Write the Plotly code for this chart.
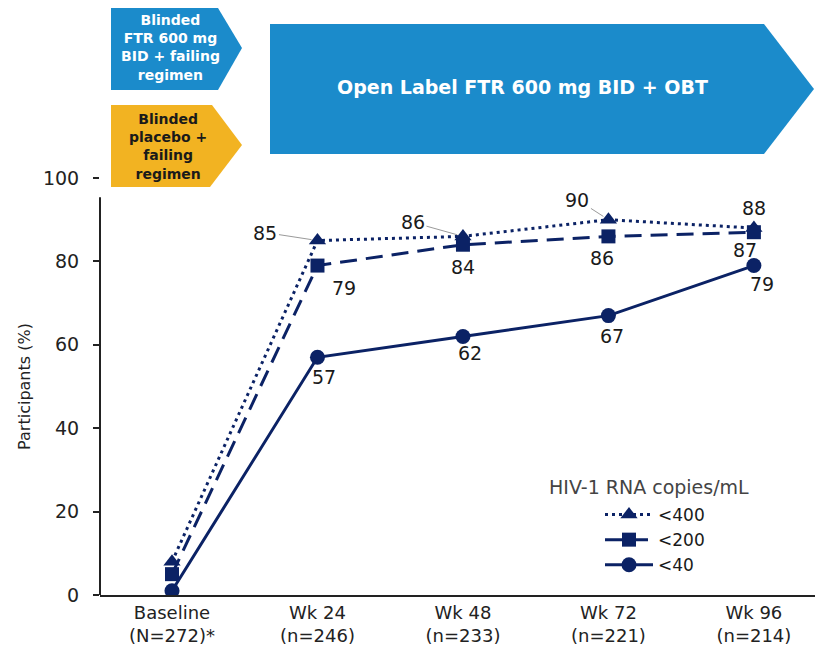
import plotly.graph_objects as go

categories = ["Baseline<br>(N=272)*", "Wk 24<br>(n=246)", "Wk 48<br>(n=233)", "Wk 72<br>(n=221)", "Wk 96<br>(n=214)"]
lt400 = [8, 85, 86, 90, 88]
lt200 = [5, 79, 84, 86, 87]
lt40 = [1, 57, 62, 67, 79]
series_names = ["<400", "<200", "<40"]
y_ticks = [0, 20, 40, 60, 80, 100]

NAVY = "#0b2265"
FONT = "DejaVu Sans"

# plot area in pixels: x 100..815, y 178 (100%) .. 595 (0%)
L, R, T, B = 100, 815, 178, 595
W, H = 815, 659


def px(x):
    return (x - L) / (R - L)


def py(y):
    return (B - y) / (B - T)


xs = list(range(len(categories)))

fig = go.Figure()
fig.add_trace(go.Scatter(
    x=xs, y=lt400, name=series_names[0], mode="lines+markers",
    line=dict(color=NAVY, width=3, dash="3px,4px"),
    marker=dict(symbol="triangle-up", size=15, color=NAVY),
))
fig.add_trace(go.Scatter(
    x=xs, y=lt200, name=series_names[1], mode="lines+markers",
    line=dict(color=NAVY, width=3, dash="17px,9px"),
    marker=dict(symbol="square", size=14, color=NAVY),
))
fig.add_trace(go.Scatter(
    x=xs, y=lt40, name=series_names[2], mode="lines+markers",
    line=dict(color=NAVY, width=3),
    marker=dict(symbol="circle", size=15, color=NAVY),
))

lab_font = dict(family=FONT, size=19, color="#1a1a1a")
annotations = []

# <400 labels (with leader lines for 85, 86, 90)
leader = {1: (-52, -8), 2: (-50, -14), 3: (-31, -20)}
for i in range(1, 5):
    if i in leader:
        ax, ay = leader[i]
        annotations.append(dict(x=xs[i], y=lt400[i], text=str(lt400[i]), showarrow=True,
                                arrowhead=0, arrowwidth=1, arrowcolor="#9a9a9a",
                                ax=ax, ay=ay, standoff=6, font=lab_font))
    else:
        annotations.append(dict(x=xs[i], y=lt400[i], text=str(lt400[i]), showarrow=False,
                                yshift=20, font=lab_font))

shift200 = {1: (27, -22), 2: (0, -22), 3: (-6, -22), 4: (-9, -18)}
for i, (dx, dy) in shift200.items():
    annotations.append(dict(x=xs[i], y=lt200[i], text=str(lt200[i]), showarrow=False,
                            xshift=dx, yshift=dy, font=lab_font))

shift40 = {1: (7, -20), 2: (7, -17), 3: (4, -20), 4: (8, -18)}
for i, (dx, dy) in shift40.items():
    annotations.append(dict(x=xs[i], y=lt40[i], text=str(lt40[i]), showarrow=False,
                            xshift=dx, yshift=dy, font=lab_font))

# legend title
annotations.append(dict(xref="paper", yref="paper", x=px(649), y=py(487),
                        xanchor="center", yanchor="middle",
                        text="HIV-1 RNA copies/mL", showarrow=False,
                        font=dict(family=FONT, size=19, color="#444444")))

# header boxes
shapes = []
BLUE = "#1b8bcb"
YELLOW = "#f2b322"


def poly(points, color):
    d = "M " + " L ".join(f"{px(x):.5f},{py(y):.5f}" for x, y in points) + " Z"
    return dict(type="path", xref="paper", yref="paper", path=d,
                fillcolor=color, line=dict(width=0), layer="above")


shapes.append(poly([(111, 8), (218, 8), (242, 48), (218, 90), (111, 90)], BLUE))
shapes.append(poly([(111, 105), (212, 105), (242, 145), (210, 187), (111, 187)], YELLOW))
shapes.append(poly([(270, 24), (764, 24), (814, 89), (764, 154), (270, 154)], BLUE))

BOXF = "DejaVu Sans"
annotations.append(dict(xref="paper", yref="paper", x=px(170), y=py(48),
                        xanchor="center", yanchor="middle",
                        text="<b>Blinded<br>FTR 600 mg<br>BID + failing<br>regimen</b>",
                        showarrow=False, align="center",
                        font=dict(family=BOXF, size=14, color="white")))
annotations.append(dict(xref="paper", yref="paper", x=px(168), y=py(146),
                        xanchor="center", yanchor="middle",
                        text="<b>Blinded<br>placebo +<br>failing<br>regimen</b>",
                        showarrow=False, align="center",
                        font=dict(family=BOXF, size=14, color="#1a1a1a")))
annotations.append(dict(xref="paper", yref="paper", x=px(522), y=py(87),
                        xanchor="center", yanchor="middle",
                        text="<b>Open Label FTR 600 mg BID + OBT</b>",
                        showarrow=False, font=dict(family=BOXF, size=19, color="white")))

# y-axis line (stops short of 100)
shapes.append(dict(type="line", xref="paper", yref="y", x0=0, x1=0, y0=0, y1=95.4,
                   line=dict(color="#222222", width=2)))

fig.update_layout(
    width=W, height=H,
    margin=dict(l=L, r=W - R, t=T, b=H - B, autoexpand=False),
    paper_bgcolor="white", plot_bgcolor="white",
    showlegend=True,
    legend=dict(x=px(600), y=py(497), xanchor="left", yanchor="top",
                font=dict(family=FONT, size=17, color="#1a1a1a"),
                bgcolor="rgba(0,0,0,0)", tracegroupgap=0, itemwidth=48),
    annotations=annotations,
    shapes=shapes,
)
fig.update_xaxes(
    range=[-0.495, 4.42], tickmode="array", tickvals=xs, ticktext=categories,
    showline=True, linecolor="#222222", linewidth=2, showgrid=False, zeroline=False,
    ticks="", tickfont=dict(family=FONT, size=18, color="#222222"),
)
fig.update_yaxes(
    range=[0, 100], tickvals=y_ticks, showline=False, showgrid=False, zeroline=False,
    ticks="outside", ticklen=6, tickwidth=1.5, tickcolor="#222222", ticklabelstandoff=10,
    tickfont=dict(family=FONT, size=19, color="#222222"),
    title=dict(text="Participants (%)", font=dict(family=FONT, size=16, color="#222222"),
               standoff=8),
)

fig.write_html("out.html")
